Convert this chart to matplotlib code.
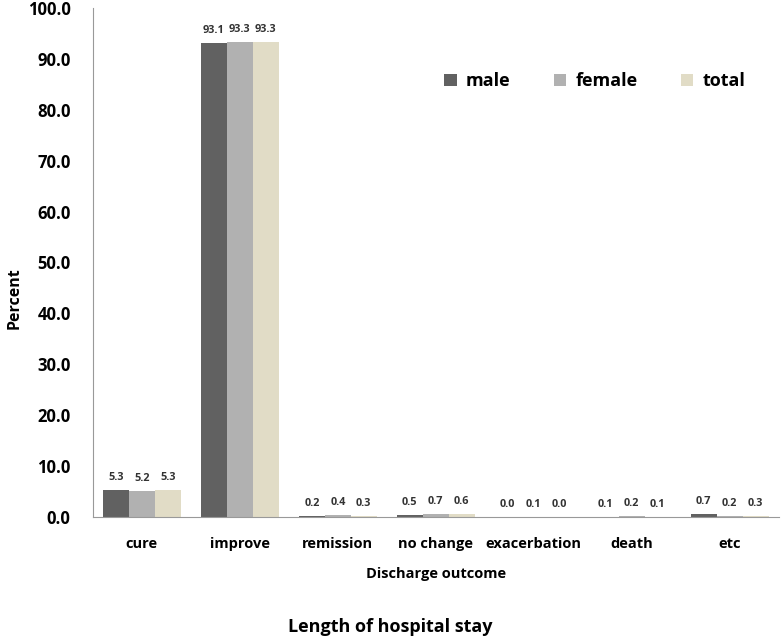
import matplotlib.pyplot as plt
import numpy as np

categories = ["cure", "improve", "remission", "no change", "exacerbation", "death", "etc"]
male = [5.3, 93.1, 0.2, 0.5, 0.0, 0.1, 0.7]
female = [5.2, 93.3, 0.4, 0.7, 0.1, 0.2, 0.2]
total = [5.3, 93.3, 0.3, 0.6, 0.0, 0.1, 0.3]
yticks = [0, 10, 20, 30, 40, 50, 60, 70, 80, 90, 100]

plt.rcParams["font.family"] = ["Open Sans", "DejaVu Sans"]

fig = plt.figure(figsize=(7.81, 6.41), dpi=100)
ax = fig.add_axes([0.119, 0.193, 0.878, 0.795])

x = np.arange(len(categories))
w = 0.265
series = [("male", male, "#616161"), ("female", female, "#b1b1b1"), ("total", total, "#e1dcc6")]
for i, (name, vals, col) in enumerate(series):
    bars = ax.bar(x + (i - 1) * w, vals, width=w, color=col, label=name)
    for b, v in zip(bars, vals):
        ax.annotate(f"{v:.1f}", (b.get_x() + b.get_width() / 2, v),
                    xytext=(0, 5), textcoords="offset points",
                    ha="center", va="bottom", fontsize=7.8, fontweight="bold", color="#333333")

ax.set_xlim(-0.5, len(categories) - 0.5)
ax.set_ylim(0, 100)
ax.set_yticks(yticks)
ax.set_yticklabels([f"{t:.1f}" for t in yticks], fontsize=12, fontweight="bold")
ax.set_xticks(x)
ax.set_xticklabels(categories, fontsize=10.5, fontweight="bold")
ax.tick_params(length=0, pad=14)
ax.tick_params(axis="y", pad=16)
for s in ["top", "right"]:
    ax.spines[s].set_visible(False)
for s in ["left", "bottom"]:
    ax.spines[s].set_color("#999999")

ax.set_xlabel("Discharge outcome", fontsize=10.5, fontweight="bold", labelpad=12)
ax.set_ylabel("Percent", fontsize=11.5, fontweight="bold")
ax.yaxis.set_label_coords(-0.103, 0.43)

ax.legend(loc="upper right", bbox_to_anchor=(0.975, 0.905), ncol=3, frameon=False,
          prop={"size": 13, "weight": "bold"}, handlelength=0.7, handleheight=0.7,
          columnspacing=2.4, handletextpad=0.5)

fig.text(0.5, 0.022, "Length of hospital stay", ha="center", va="center",
         fontsize=13, fontweight="bold")

fig.savefig("out.png", dpi=100)
